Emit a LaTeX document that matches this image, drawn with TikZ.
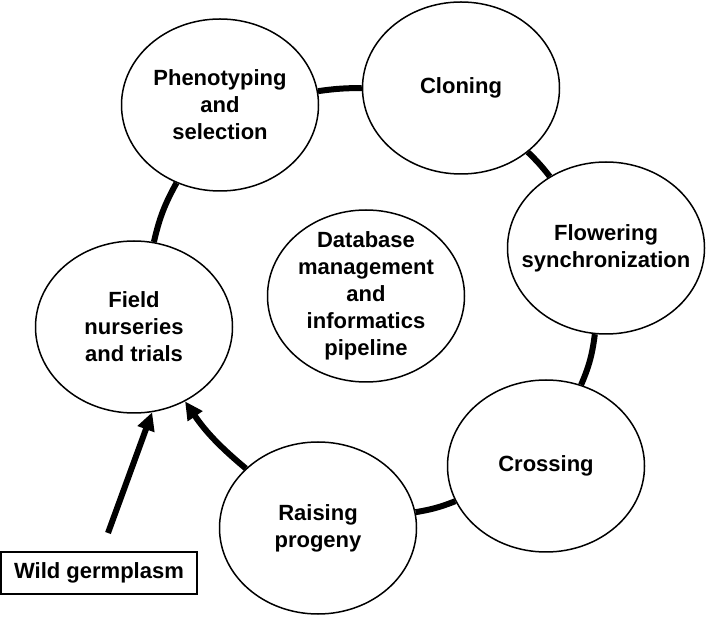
\documentclass[tikz,border=0pt]{standalone}
\usepackage{fontspec}
\setmainfont{Liberation Sans}
\usetikzlibrary{shapes.geometric,arrows.meta}
\tikzset{
  stage/.style={draw,ellipse,line width=1.5pt,minimum width=197pt,minimum height=172pt,
    inner sep=-30pt,align=center,font=\bfseries\fontsize{22}{27}\selectfont},
  link/.style={line width=6pt},
  feed/.style={line width=6pt,-{Triangle[length=18pt,width=17pt]}}
}
\begin{document}
\begin{tikzpicture}[x=1pt,y=1pt]
			\useasboundingbox (0,0) rectangle (707,616);
			\node[stage] (pheno) at (220,511) {Phenotyping\\and\\selection};
			\node[stage] (clon) at (461,528) {Cloning};
			\node[stage] (flow) at (606,368) {Flowering\\synchronization};
			\node[stage] (cross) at (546,150) {Crossing};
			\node[stage] (raise) at (318,88) {Raising\\progeny};
			\node[stage] (field) at (134,289) {Field\\nurseries\\and trials};
			\node[stage] (db) at (366,320) {Database\\management\\and\\informatics\\pipeline};
			\node[draw,line width=1.2pt,minimum width=196pt,minimum height=42pt,inner sep=0pt,
				font=\bfseries\fontsize{22}{27}\selectfont] (wild) at (99,43) {Wild germplasm};
			\coordinate (wildtail) at (108,83);
			% cycle
			\draw[link] (pheno) to[bend left=4] (clon);
			\draw[link] (clon) to[bend left=4] (flow);
			\draw[link] (flow) to[bend left=8] (cross);
			\draw[link] (cross) to[bend left=6] (raise);
			\draw[feed] (raise) to[bend left=8] (field);
			\draw[link] (field) to[bend left=8] (pheno);
			\draw[feed] (wildtail) -- (field.-78);
		\end{tikzpicture}
\end{document}
